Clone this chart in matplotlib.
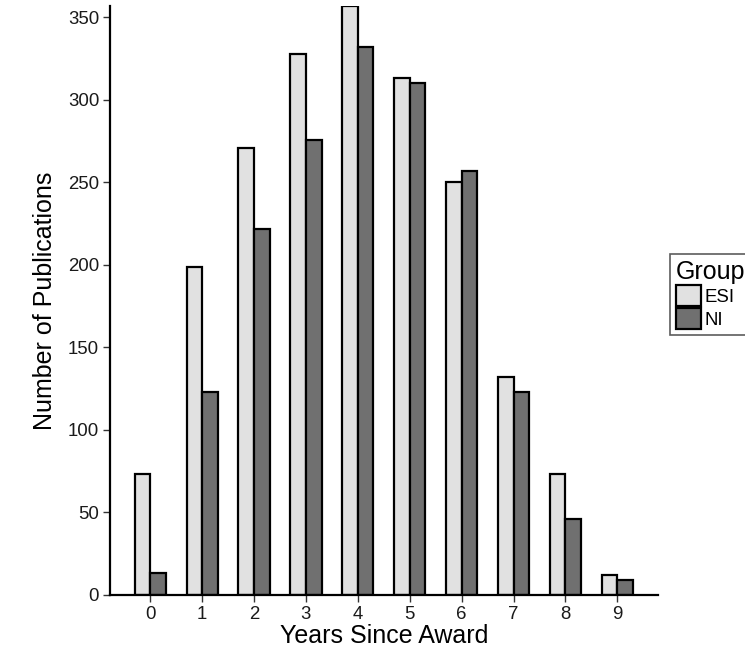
import matplotlib.pyplot as plt
import numpy as np

plt.rcParams['font.family'] = ['Liberation Sans', 'DejaVu Sans']

# publications per year since award, by group
years = [0, 1, 2, 3, 4, 5, 6, 7, 8, 9]
esi = [73, 199, 271, 328, 357, 313, 250, 132, 73, 12]
ni = [13, 123, 222, 276, 332, 310, 257, 123, 46, 9]
groups = ['ESI', 'NI']
colors = ['#e1e1e1', '#707070']

fig = plt.figure(figsize=(7.45, 6.53), dpi=100)
ax = fig.add_axes([0.148, 0.089, 0.735, 0.902])

x = np.array(years)
w = 0.3
b1 = ax.bar(x - w / 2, esi, w, color=colors[0], edgecolor='black', linewidth=1.6, label=groups[0])
b2 = ax.bar(x + w / 2, ni, w, color=colors[1], edgecolor='black', linewidth=1.6, label=groups[1])

ax.set_xlim(-0.77, 9.78)
ax.set_ylim(0, max(esi))
ax.set_xticks(years)
ax.set_yticks(range(0, 351, 50))
ax.tick_params(labelsize=13.4, length=5, width=1, color='#333333', labelcolor='#1a1a1a', pad=3)
for s in ['top', 'right']:
    ax.spines[s].set_visible(False)
for s in ['left', 'bottom']:
    ax.spines[s].set_linewidth(1.6)

ax.set_xlabel('Years Since Award', fontsize=18, labelpad=1)
ax.set_ylabel('Number of Publications', fontsize=18, labelpad=8)

leg = fig.legend(handles=[b1, b2], labels=groups, title='Group',
                 loc='upper left', bbox_to_anchor=(670 / 745, 1 - 254 / 653),
                 fontsize=13.4, title_fontsize=18, frameon=True, fancybox=False,
                 handlelength=1.35, handleheight=1.35, handletextpad=0.2,
                 labelspacing=0.1, borderpad=0.3, borderaxespad=0)
leg.get_frame().set_edgecolor('#333333')
leg.get_frame().set_linewidth(1.2)
leg._legend_box.align = 'left'

fig.savefig('out.png', dpi=100)
